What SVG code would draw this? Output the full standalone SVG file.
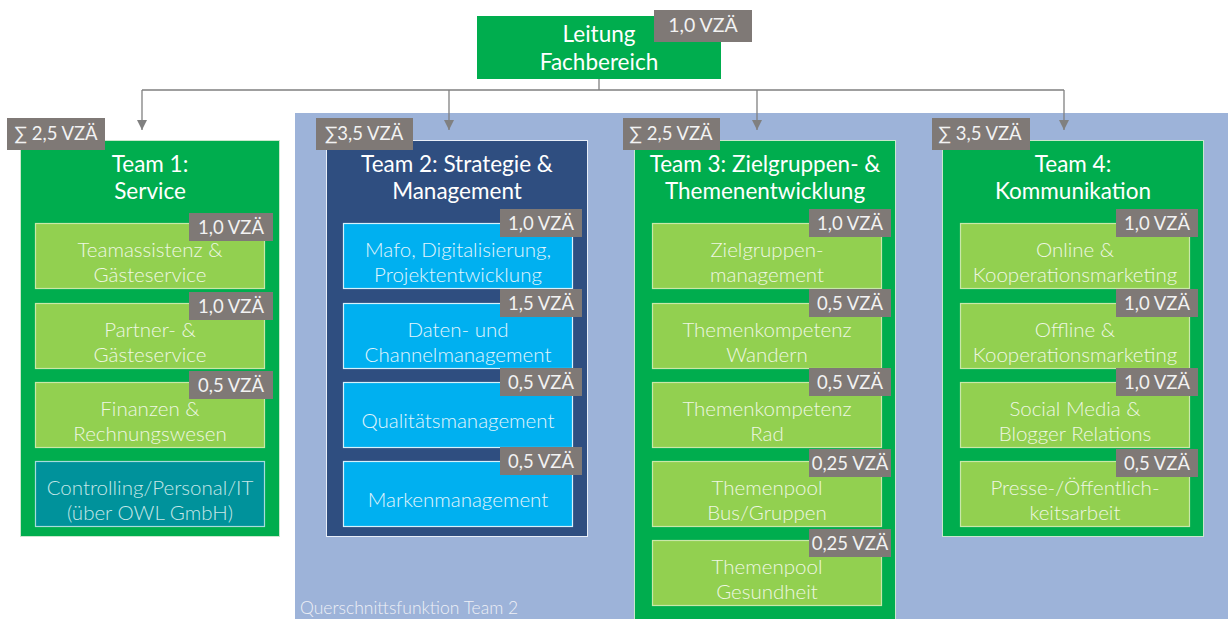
<svg xmlns="http://www.w3.org/2000/svg" width="1228" height="619" viewBox="0 0 1228 619">
<style>
text{font-family:Lato,"Open Sans","Liberation Sans",sans-serif;text-anchor:middle}
.hdr{font-size:22.5px;fill:#ffffff}
.sub{font-size:20.5px;font-weight:300}
.bt{font-size:18.5px;fill:#f2f2f2}
.badge{fill:#7f7976}
.team{fill:#00ad4e;stroke:#c9e8cc;stroke-width:1}
.g{fill:#92d050;stroke:#c8e8a8;stroke-width:1.2}
.gt{fill:#eef7e2}
.b{fill:#00b0f0;stroke:#d6f1fc;stroke-width:1.2}
.btx{fill:#e2f5fd}
.conn{stroke:#808080;stroke-width:1.3;fill:none}
</style>
<defs>
<marker id="arr" viewBox="0 0 10 10" refX="10" refY="5" markerWidth="10" markerHeight="10" markerUnits="userSpaceOnUse" orient="auto">
<path d="M0,0 L10,5 L0,10 z" fill="#808080"/>
</marker>
</defs>
<rect width="1228" height="619" fill="#ffffff"/>
<rect id="bg-querschnitt" x="295" y="113" width="933" height="506" fill="#9db3d9"/>
<text x="300" y="614" style="font-size:17.5px;fill:#eef0f6;text-anchor:start;font-weight:300">Querschnittsfunktion Team 2</text>

<g id="connectors">
<path class="conn" d="M599,79 V90 M142,90 H1064"/>
<path class="conn" d="M142,90 V130" marker-end="url(#arr)"/>
<path class="conn" d="M449,90 V130" marker-end="url(#arr)"/>
<path class="conn" d="M757,90 V130" marker-end="url(#arr)"/>
<path class="conn" d="M1064,90 V130" marker-end="url(#arr)"/>
</g>

<g id="leitung">
<rect x="477" y="16" width="244" height="63" fill="#00ad4e"/>
<text class="hdr" x="599" y="42">Leitung</text>
<text class="hdr" x="599" y="70">Fachbereich</text>
<rect class="badge" x="654" y="10" width="98" height="32"/>
<text class="bt" x="703" y="32" style="font-size:19.5px">1,0 VZÄ</text>
</g>

<g id="team1">
<rect class="team" x="20.5" y="140.5" width="259" height="396"/>
<rect class="badge" x="7" y="118" width="98" height="32"/>
<text class="bt" x="56" y="140">∑ 2,5 VZÄ</text>
<text class="hdr" x="150" y="172">Team 1:</text>
<text class="hdr" x="150" y="199">Service</text>
</g>
<g id="t1-teamassistenz">
<rect class="g" x="35.5" y="223.5" width="229" height="65"/>
<text class="sub gt" x="150" y="257">Teamassistenz &amp;</text>
<text class="sub gt" x="150" y="282">Gästeservice</text>
<rect class="badge" x="189" y="213" width="84" height="28"/>
<text class="bt" x="231" y="234">1,0 VZÄ</text>
</g>
<g id="t1-partner">
<rect class="g" x="35.5" y="303.5" width="229" height="65"/>
<text class="sub gt" x="150" y="337">Partner- &amp;</text>
<text class="sub gt" x="150" y="362">Gästeservice</text>
<rect class="badge" x="189" y="292" width="84" height="28"/>
<text class="bt" x="231" y="313">1,0 VZÄ</text>
</g>
<g id="t1-finanzen">
<rect class="g" x="35.5" y="382.5" width="229" height="65"/>
<text class="sub gt" x="150" y="416">Finanzen &amp;</text>
<text class="sub gt" x="150" y="441">Rechnungswesen</text>
<rect class="badge" x="189" y="371" width="84" height="28"/>
<text class="bt" x="231" y="392">0,5 VZÄ</text>
</g>
<g id="t1-controlling">
<rect x="35.5" y="461.5" width="229" height="65" fill="#00929b" stroke="#a6dcdc" stroke-width="1.2"/>
<text class="sub" x="150" y="495" fill="#c6e7e8">Controlling/Personal/IT</text>
<text class="sub" x="150" y="520" fill="#c6e7e8">(über OWL GmbH)</text>
</g>

<g id="team2">
<rect x="326.5" y="140.5" width="261" height="396" fill="#2f4e80" stroke="#e8eef8" stroke-width="1"/>
<rect class="badge" x="316" y="118" width="97" height="32"/>
<text class="bt" x="364" y="140">∑3,5 VZÄ</text>
<text class="hdr" x="457" y="172">Team 2: Strategie &amp;</text>
<text class="hdr" x="457" y="199">Management</text>
</g>
<g id="t2-mafo">
<rect class="b" x="343.5" y="223.5" width="229" height="65"/>
<text class="sub btx" x="458" y="257">Mafo, Digitalisierung,</text>
<text class="sub btx" x="458" y="282">Projektentwicklung</text>
<rect class="badge" x="500" y="209" width="82" height="28"/>
<text class="bt" x="541" y="230">1,0 VZÄ</text>
</g>
<g id="t2-daten">
<rect class="b" x="343.5" y="303.5" width="229" height="65"/>
<text class="sub btx" x="458" y="337">Daten- und</text>
<text class="sub btx" x="458" y="362">Channelmanagement</text>
<rect class="badge" x="500" y="289" width="82" height="28"/>
<text class="bt" x="541" y="310">1,5 VZÄ</text>
</g>
<g id="t2-qualitaet">
<rect class="b" x="343.5" y="382.5" width="229" height="65"/>
<text class="sub btx" x="458" y="428">Qualitätsmanagement</text>
<rect class="badge" x="500" y="368" width="82" height="28"/>
<text class="bt" x="541" y="389">0,5 VZÄ</text>
</g>
<g id="t2-marken">
<rect class="b" x="343.5" y="461.5" width="229" height="65"/>
<text class="sub btx" x="458" y="507">Markenmanagement</text>
<rect class="badge" x="500" y="447" width="82" height="28"/>
<text class="bt" x="541" y="468">0,5 VZÄ</text>
</g>

<g id="team3">
<rect class="team" x="634.5" y="140.5" width="261" height="480"/>
<rect class="badge" x="623" y="118" width="97" height="32"/>
<text class="bt" x="671" y="140">∑ 2,5 VZÄ</text>
<text class="hdr" x="765" y="172">Team 3:  Zielgruppen- &amp;</text>
<text class="hdr" x="765" y="199">Themenentwicklung</text>
</g>
<g id="t3-zielgruppen">
<rect class="g" x="652.5" y="223.5" width="229" height="65"/>
<text class="sub gt" x="767" y="257">Zielgruppen-</text>
<text class="sub gt" x="767" y="282">management</text>
<rect class="badge" x="809" y="209" width="82" height="28"/>
<text class="bt" x="850" y="230">1,0 VZÄ</text>
</g>
<g id="t3-wandern">
<rect class="g" x="652.5" y="303.5" width="229" height="65"/>
<text class="sub gt" x="767" y="337">Themenkompetenz</text>
<text class="sub gt" x="767" y="362">Wandern</text>
<rect class="badge" x="809" y="289" width="82" height="28"/>
<text class="bt" x="850" y="310">0,5 VZÄ</text>
</g>
<g id="t3-rad">
<rect class="g" x="652.5" y="382.5" width="229" height="65"/>
<text class="sub gt" x="767" y="416">Themenkompetenz</text>
<text class="sub gt" x="767" y="441">Rad</text>
<rect class="badge" x="809" y="368" width="82" height="28"/>
<text class="bt" x="850" y="389">0,5 VZÄ</text>
</g>
<g id="t3-bus">
<rect class="g" x="652.5" y="461.5" width="229" height="65"/>
<text class="sub gt" x="767" y="495">Themenpool</text>
<text class="sub gt" x="767" y="520">Bus/Gruppen</text>
<rect class="badge" x="809" y="449" width="82" height="28"/>
<text class="bt" x="850" y="470">0,25 VZÄ</text>
</g>
<g id="t3-gesundheit">
<rect class="g" x="652.5" y="540.5" width="229" height="65"/>
<text class="sub gt" x="767" y="574">Themenpool</text>
<text class="sub gt" x="767" y="599">Gesundheit</text>
<rect class="badge" x="809" y="529" width="82" height="28"/>
<text class="bt" x="850" y="550">0,25 VZÄ</text>
</g>

<g id="team4">
<rect class="team" x="942.5" y="140.5" width="261" height="396"/>
<rect class="badge" x="932" y="118" width="98" height="32"/>
<text class="bt" x="980" y="140">∑ 3,5 VZÄ</text>
<text class="hdr" x="1073" y="172">Team 4:</text>
<text class="hdr" x="1073" y="199">Kommunikation</text>
</g>
<g id="t4-online">
<rect class="g" x="960.5" y="223.5" width="229" height="65"/>
<text class="sub gt" x="1075" y="257">Online &amp;</text>
<text class="sub gt" x="1075" y="282">Kooperationsmarketing</text>
<rect class="badge" x="1116" y="209" width="82" height="28"/>
<text class="bt" x="1157" y="230">1,0 VZÄ</text>
</g>
<g id="t4-offline">
<rect class="g" x="960.5" y="303.5" width="229" height="65"/>
<text class="sub gt" x="1075" y="337">Offline &amp;</text>
<text class="sub gt" x="1075" y="362">Kooperationsmarketing</text>
<rect class="badge" x="1116" y="289" width="82" height="28"/>
<text class="bt" x="1157" y="310">1,0 VZÄ</text>
</g>
<g id="t4-social">
<rect class="g" x="960.5" y="382.5" width="229" height="65"/>
<text class="sub gt" x="1075" y="416">Social Media &amp;</text>
<text class="sub gt" x="1075" y="441">Blogger Relations</text>
<rect class="badge" x="1116" y="368" width="82" height="28"/>
<text class="bt" x="1157" y="389">1,0 VZÄ</text>
</g>
<g id="t4-presse">
<rect class="g" x="960.5" y="461.5" width="229" height="65"/>
<text class="sub gt" x="1075" y="495">Presse-/Öffentlich-</text>
<text class="sub gt" x="1075" y="520">keitsarbeit</text>
<rect class="badge" x="1116" y="449" width="82" height="28"/>
<text class="bt" x="1157" y="470">0,5 VZÄ</text>
</g>
</svg>
